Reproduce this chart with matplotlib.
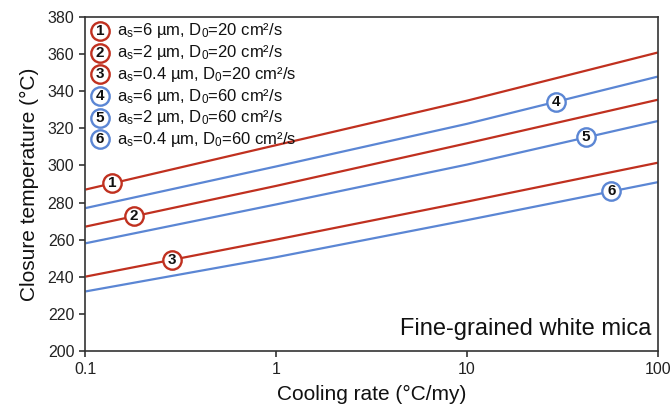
import numpy as np
import matplotlib
matplotlib.use("Agg")
import matplotlib.pyplot as plt

plt.rcParams["font.family"] = ["Liberation Sans", "DejaVu Sans"]
plt.rcParams["mathtext.fontset"] = "custom"
plt.rcParams["mathtext.rm"] = "Liberation Sans"
plt.rcParams["mathtext.it"] = "Liberation Sans"

# Cooling rate (°C/my) and closure temperature (°C) for each case
cooling_rate = [0.1, 1, 10, 100]
tc_1 = [287, 311, 335, 361]        # a_s = 6 um, D0 = 20
tc_2 = [267, 289, 312, 335.5]      # a_s = 2 um, D0 = 20
tc_3 = [240, 260, 280.5, 301.5]    # a_s = 0.4 um, D0 = 20
tc_4 = [277, 299.5, 322.5, 348]    # a_s = 6 um, D0 = 60
tc_5 = [258, 279, 300.5, 324]      # a_s = 2 um, D0 = 60
tc_6 = [232, 250.5, 270.5, 291]    # a_s = 0.4 um, D0 = 60

series = [tc_1, tc_2, tc_3, tc_4, tc_5, tc_6]
series_labels = [
    r"a$_\mathregular{s}$=6 µm, D$_\mathregular{0}$=20 cm²/s",
    r"a$_\mathregular{s}$=2 µm, D$_\mathregular{0}$=20 cm²/s",
    r"a$_\mathregular{s}$=0.4 µm, D$_\mathregular{0}$=20 cm²/s",
    r"a$_\mathregular{s}$=6 µm, D$_\mathregular{0}$=60 cm²/s",
    r"a$_\mathregular{s}$=2 µm, D$_\mathregular{0}$=60 cm²/s",
    r"a$_\mathregular{s}$=0.4 µm, D$_\mathregular{0}$=60 cm²/s",
]
# Cooling rate at which each curve carries its number badge
badge_rate = [0.138, 0.180, 0.283, 29.2, 42.0, 57.0]

RED = "#c0301f"
BLUE = "#5b86d4"
colors = [RED, RED, RED, BLUE, BLUE, BLUE]

fig = plt.figure(figsize=(6.72, 4.09), dpi=100)
ax = fig.add_axes([0.1272, 0.1425, 0.8518, 0.8152])

for vals, c in zip(series, colors):
    ax.plot(cooling_rate, vals, color=c, lw=1.6, zorder=2, solid_capstyle="butt")

def badge(x, y, num, color, transform):
    ax.scatter([x], [y], s=175, marker="o", facecolor="white",
               edgecolor=color, linewidths=1.7, zorder=4, transform=transform,
               clip_on=False)
    ax.text(x, y, str(num), ha="center", va="center", fontsize=11,
            fontweight="bold", color="#111111", zorder=5, transform=transform)

# Number badges sitting on each curve
logx = np.log10(cooling_rate)
for i, (vals, c, bx) in enumerate(zip(series, colors, badge_rate)):
    by = np.interp(np.log10(bx), logx, vals)
    badge(bx, by, i + 1, c, ax.transData)

# Key in the upper-left corner
for i, (lab, c) in enumerate(zip(series_labels, colors)):
    y = 0.959 - i * 0.0651
    badge(0.0253, y, i + 1, c, ax.transAxes)
    ax.text(0.055, y, lab, ha="left", va="center", fontsize=12,
            color="#111111", transform=ax.transAxes)

ax.text(0.988, 0.066, "Fine-grained white mica", ha="right", va="center",
        fontsize=17, color="#111111", transform=ax.transAxes)

ax.set_xscale("log")
ax.set_xlim(0.1, 100)
ax.set_ylim(200, 380)
ax.set_xticks([0.1, 1, 10, 100])
ax.set_xticklabels(["0.1", "1", "10", "100"])
ax.set_yticks(np.arange(200, 381, 20))
ax.minorticks_off()
ax.tick_params(axis="both", direction="out", length=4, width=1.1,
               labelsize=11.5, colors="#222222", pad=4)
for sp in ax.spines.values():
    sp.set_color("#333333")
    sp.set_linewidth(1.2)

ax.set_xlabel("Cooling rate (°C/my)", fontsize=15, color="#111111", labelpad=6)
ax.set_ylabel("Closure temperature (°C)", fontsize=15, color="#111111", labelpad=6)

fig.savefig("out.png", dpi=100)
